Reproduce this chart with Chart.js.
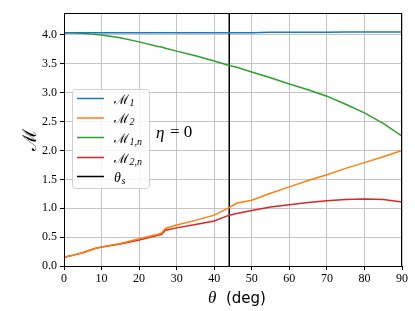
<!DOCTYPE html>
<html>
<head>
<meta charset="utf-8">
<script src="https://cdn.jsdelivr.net/npm/chart.js@4/dist/chart.umd.min.js"></script>
<style>
  html, body { margin: 0; padding: 0; background: #fff; }
  #wrap { width: 415px; height: 311px; }
</style>
</head>
<body>
<div id="wrap"><canvas id="chart" width="415" height="311"></canvas></div>
<script>
// data
const theta = [0, 2, 5, 8, 10, 15, 20, 25, 26, 27, 30, 35, 40, 44, 46, 50, 55, 60, 65, 70, 75, 80, 85, 90];
const m1  = [4.04, 4.04, 4.04, 4.04, 4.04, 4.04, 4.04, 4.04, 4.04, 4.04, 4.04, 4.04, 4.04, 4.04, 4.04, 4.04, 4.045, 4.045, 4.045, 4.045, 4.05, 4.05, 4.05, 4.05];
const m2  = [0.15, 0.18, 0.23, 0.30, 0.33, 0.39, 0.47, 0.55, 0.57, 0.65, 0.71, 0.79, 0.88, 1.01, 1.09, 1.14, 1.26, 1.37, 1.48, 1.58, 1.69, 1.79, 1.89, 2.00];
const m1n = [4.04, 4.04, 4.03, 4.01, 4.00, 3.95, 3.88, 3.80, 3.79, 3.77, 3.72, 3.64, 3.55, 3.47, 3.44, 3.36, 3.26, 3.15, 3.05, 2.94, 2.80, 2.65, 2.47, 2.25];
const m2n = [0.15, 0.18, 0.23, 0.30, 0.33, 0.38, 0.45, 0.53, 0.55, 0.62, 0.66, 0.72, 0.78, 0.88, 0.91, 0.96, 1.02, 1.06, 1.10, 1.13, 1.15, 1.16, 1.15, 1.11];
const thetaS = 44;
const yMax = 4.38;
const xTicks = [0, 10, 20, 30, 40, 50, 60, 70, 80, 90];
const yTicks = [0, 0.5, 1, 1.5, 2, 2.5, 3, 3.5, 4];
const legendMain = ['ℳ', 'ℳ', 'ℳ', 'ℳ', 'θ'];
const legendSub = ['1', '2', '1,n', '2,n', 's'];
const colors = ['#1f77b4', '#ff7f0e', '#2ca02c', '#d62728', '#000000'];

const pts = (ys) => theta.map((t, i) => ({ x: t, y: ys[i] }));

const serif = '"Liberation Serif", "DejaVu Serif", serif';
const scriptFont = '"DejaVu Serif", serif';

const overlay = {
  id: 'overlay',
  afterDraw(chart) {
    const { ctx, chartArea: a } = chart;
    ctx.save();
    // frame
    ctx.strokeStyle = '#000';
    ctx.lineWidth = 1;
    ctx.strokeRect(a.left + 0.5, a.top + 0.5, a.right - a.left - 1, a.bottom - a.top);

    // legend box
    const bx = 72, by = 89, bw = 77, bh = 99;
    ctx.fillStyle = 'rgba(255,255,255,0.85)';
    ctx.strokeStyle = '#d0d0d0';
    ctx.beginPath();
    ctx.roundRect(bx + 0.5, by + 0.5, bw, bh, 3);
    ctx.fill();
    ctx.stroke();
    const rowY = [98.5, 118, 137.5, 157.5, 176.5];
    for (let i = 0; i < 5; i++) {
      const y = rowY[i];
      ctx.strokeStyle = colors[i];
      ctx.lineWidth = 1.5;
      ctx.beginPath();
      ctx.moveTo(77, y);
      ctx.lineTo(104, y);
      ctx.stroke();
      ctx.fillStyle = '#000';
      ctx.textBaseline = 'alphabetic';
      ctx.textAlign = 'left';
      ctx.font = (i < 4 ? '13px ' + scriptFont : 'italic 14px ' + serif);
      ctx.fillText(legendMain[i], 114, y + 5);
      const w = ctx.measureText(legendMain[i]).width;
      ctx.font = 'italic 10px ' + serif;
      ctx.fillText(legendSub[i], 114 + w + 0.5, y + 7);
    }

    // eta label
    ctx.fillStyle = '#000';
    ctx.font = 'italic 17px ' + serif;
    ctx.textAlign = 'left';
    ctx.textBaseline = 'middle';
    ctx.fillText('η', 156, 134);
    ctx.font = '17px ' + serif;
    ctx.fillText('= 0', 170, 133);

    // x title
    ctx.textBaseline = 'alphabetic';
    ctx.font = 'italic 17px ' + serif;
    ctx.fillText('θ', 208, 303);
    ctx.font = '15px "DejaVu Sans", sans-serif';
    ctx.fillText('(deg)', 226, 303);

    // y title
    ctx.translate(31, 140);
    ctx.rotate(-Math.PI / 2);
    ctx.textAlign = 'center';
    ctx.textBaseline = 'middle';
    ctx.font = '19px ' + scriptFont;
    ctx.fillText('ℳ', 0, 0);
    ctx.restore();
  }
};

new Chart(document.getElementById('chart'), {
  type: 'line',
  data: {
    datasets: [
      { label: 'M1', data: pts(m1), borderColor: colors[0] },
      { label: 'M2', data: pts(m2), borderColor: colors[1] },
      { label: 'M1n', data: pts(m1n), borderColor: colors[2] },
      { label: 'M2n', data: pts(m2n), borderColor: colors[3] },
      { label: 'thetaS', data: [{ x: thetaS, y: 0 }, { x: thetaS, y: yMax }], borderColor: colors[4] }
    ]
  },
  options: {
    responsive: false,
    animation: false,
    layout: { padding: { top: 13, right: 13, left: 0, bottom: 0 } },
    elements: {
      point: { radius: 0 },
      line: { borderWidth: 1.5, tension: 0, fill: false }
    },
    plugins: { legend: { display: false }, tooltip: { enabled: false } },
    scales: {
      x: {
        type: 'linear',
        min: 0,
        max: 90,
        afterFit: (s) => { s.height = 45; },
        afterBuildTicks: (s) => { s.ticks = xTicks.map(v => ({ value: v })); },
        grid: { color: '#c4c4c4', lineWidth: 1, tickLength: 4, tickColor: '#000' },
        border: { color: '#000', width: 1 },
        ticks: { color: '#000', font: { family: serif, size: 12 }, padding: 2, maxRotation: 0 }
      },
      y: {
        min: 0,
        max: yMax,
        afterFit: (s) => { s.width = 64; },
        afterBuildTicks: (s) => { s.ticks = yTicks.map(v => ({ value: v })); },
        grid: { color: '#c4c4c4', lineWidth: 1, tickLength: 4, tickColor: '#000' },
        border: { color: '#000', width: 1 },
        ticks: { color: '#000', font: { family: serif, size: 12 }, padding: 3, callback: (v) => v.toFixed(1) }
      }
    }
  },
  plugins: [overlay]
});
</script>
</body>
</html>
